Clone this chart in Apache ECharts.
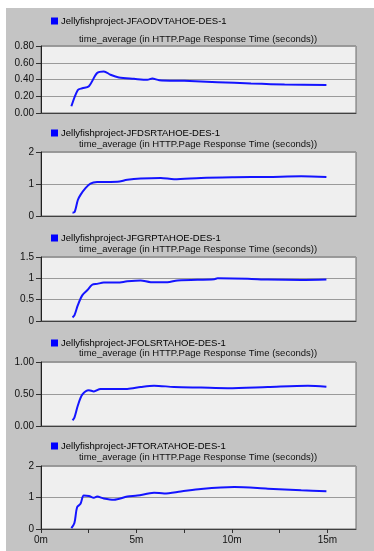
<!DOCTYPE html>
<html>
<head>
<meta charset="utf-8">
<script src="https://cdn.jsdelivr.net/npm/echarts@6/dist/echarts.min.js"></script>
<style>
html,body{margin:0;padding:0;background:#ffffff;width:374px;height:551px;overflow:hidden;}
#bg{position:absolute;left:6px;top:8px;right:0;bottom:0;background:#c4c4c4;}
#chart{position:absolute;left:0;top:0;width:374px;height:551px;}
</style>
</head>
<body>
<div id="bg"></div>
<div id="chart"></div>
<script>
// Series names
const seriesNames = [
  'Jellyfishproject-JFAODVTAHOE-DES-1',
  'Jellyfishproject-JFDSRTAHOE-DES-1',
  'Jellyfishproject-JFGRPTAHOE-DES-1',
  'Jellyfishproject-JFOLSRTAHOE-DES-1',
  'Jellyfishproject-JFTORATAHOE-DES-1'
];
const panelTitle = 'time_average (in HTTP.Page Response Time (seconds))';

// Time (minutes) and values for each series
const t1 = [1.59, 1.93, 2.16, 2.51, 2.94, 3.29, 3.64, 4.08, 4.87, 5.57, 5.83, 6.19, 7.50, 9.25, 11.0, 12.76, 14.95];
const v1 = [0.08, 0.275, 0.295, 0.32, 0.477, 0.497, 0.457, 0.424, 0.408, 0.396, 0.412, 0.392, 0.384, 0.368, 0.352, 0.34, 0.335];

const t2 = [1.65, 1.75, 1.93, 2.07, 2.33, 2.59, 2.94, 4.0, 4.52, 5.22, 6.27, 6.97, 8.38, 10.13, 11.88, 13.63, 14.95];
const v2 = [0.105, 0.115, 0.5, 0.66, 0.87, 1.01, 1.06, 1.07, 1.13, 1.17, 1.19, 1.15, 1.19, 1.21, 1.22, 1.24, 1.22];

const t3 = [1.65, 1.75, 1.93, 2.16, 2.42, 2.68, 2.94, 3.29, 4.0, 4.52, 5.22, 5.75, 6.62, 7.15, 9.08, 9.25, 10.83, 11.88, 13.63, 14.95];
const v3 = [0.086, 0.13, 0.37, 0.60, 0.72, 0.85, 0.87, 0.90, 0.90, 0.93, 0.95, 0.91, 0.91, 0.95, 0.98, 1.0, 0.99, 0.97, 0.96, 0.97];

const t4 = [1.65, 1.75, 1.93, 2.16, 2.51, 2.77, 3.12, 4.0, 4.52, 5.22, 5.92, 6.97, 8.38, 9.78, 11.88, 13.98, 14.95];
const v4 = [0.09, 0.13, 0.32, 0.49, 0.56, 0.54, 0.58, 0.58, 0.58, 0.61, 0.63, 0.61, 0.60, 0.59, 0.61, 0.63, 0.615];

const t5 = [1.59, 1.75, 1.89, 2.07, 2.24, 2.51, 2.77, 2.94, 3.29, 3.82, 4.52, 5.05, 5.92, 6.45, 7.32, 8.38, 10.13, 11.88, 13.63, 14.95];
const v5 = [0.03, 0.19, 0.69, 0.8, 1.06, 1.05, 0.99, 1.03, 0.97, 0.93, 1.03, 1.06, 1.15, 1.13, 1.19, 1.27, 1.33, 1.28, 1.23, 1.2];

// Y axis ranges and tick steps
const yMax = [0.8, 2, 1.5, 1, 2];
const yStep = [0.2, 1, 0.5, 0.5, 1];
const yDecimals = [2, 0, -1, 2, 0];

// X axis
const xMax = 16.5;
const xStep = 2.5;
const xLabelStep = 5;

const times = [t1, t2, t3, t4, t5];
const vals = [v1, v2, v3, v4, v5];

// Layout (px)
const gridTops = [46, 152, 257, 362, 466];
const gridHeights = [67, 64, 64, 64, 63];
const legendTops = [16, 128, 233, 338, 441];
const titleTops = [34, 139, 244, 348, 452];

const FONT = 'Liberation Sans';
const chart = echarts.init(document.getElementById('chart'), null, {renderer: 'canvas'});

const grids = [], xAxes = [], yAxes = [], series = [], legends = [], titles = [];
for (let i = 0; i < 5; i++) {
  grids.push({
    left: 41, right: 18, top: gridTops[i], height: gridHeights[i],
    show: true, backgroundColor: '#efefef', borderColor: '#6a6a6a', borderWidth: 1
  });
  const last = i === 4;
  xAxes.push({
    type: 'value', gridIndex: i, min: 0, max: xMax, interval: xStep,
    axisLine: {show: true, onZero: false, lineStyle: {color: '#404040', width: 1}},
    axisTick: {show: last, length: 4, inside: false, lineStyle: {color: '#303030'}},
    axisLabel: {
      show: last, color: '#111', fontFamily: FONT, fontSize: 10, margin: 6,
      showMaxLabel: false,
      formatter: v => (Math.abs(v % xLabelStep) < 1e-6 ? v + 'm' : '')
    },
    splitLine: {show: false}
  });
  yAxes.push({
    type: 'value', gridIndex: i, min: 0, max: yMax[i], interval: yStep[i],
    axisLine: {show: true, lineStyle: {color: '#202020', width: 1}},
    axisTick: {show: true, length: 5, lineStyle: {color: '#303030'}},
    axisLabel: {
      color: '#111', fontFamily: FONT, fontSize: 10, margin: 7,
      formatter: v => yDecimals[i] >= 0 ? v.toFixed(yDecimals[i]) : String(+v.toFixed(2))
    },
    splitLine: {show: true, lineStyle: {color: '#9a9a9a', width: 1}}
  });
  series.push({
    name: seriesNames[i], type: 'line', xAxisIndex: i, yAxisIndex: i,
    data: times[i].map((t, k) => [t, vals[i][k]]),
    showSymbol: false, symbol: 'none', smooth: 0.3,
    lineStyle: {color: '#1414ff', width: 2}, itemStyle: {color: '#0000ff'}
  });
  legends.push({
    data: [seriesNames[i]], left: 51, top: legendTops[i], padding: 0,
    icon: 'rect', itemWidth: 7, itemHeight: 7, selectedMode: false,
    textStyle: {color: '#000', fontFamily: FONT, fontSize: 9.5, padding: [0, 0, 0, -2]}
  });
  titles.push({
    text: panelTitle, left: 198, top: titleTops[i], textAlign: 'center', padding: 0,
    textStyle: {color: '#111', fontFamily: FONT, fontSize: 9.5, fontWeight: 'normal'}
  });
}

chart.setOption({
  backgroundColor: 'transparent',
  animation: false,
  title: titles,
  legend: legends,
  grid: grids,
  xAxis: xAxes,
  yAxis: yAxes,
  series: series
});
</script>
</body>
</html>
